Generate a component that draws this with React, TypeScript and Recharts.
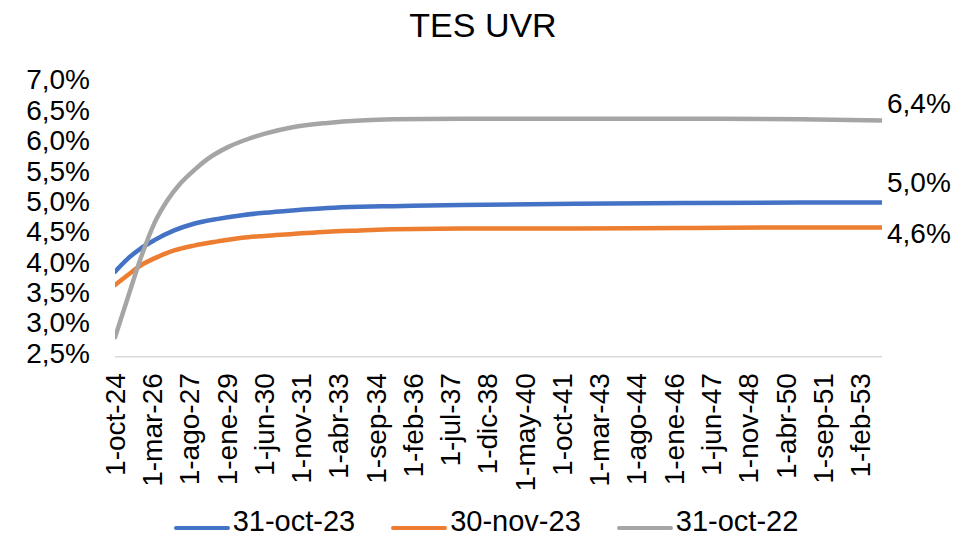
import React from 'react';
import { LineChart, Line, XAxis, YAxis, Legend, LabelList } from 'recharts';

// months elapsed since 1-oct-24 for each sampled point, per series
const monthsOct23 = [0, 6, 12, 18, 27, 36, 47, 58, 68, 81, 97, 112, 127, 158, 210, 260, 313, 350];
const oct23 = [3.90, 4.12, 4.29, 4.42, 4.58, 4.69, 4.77, 4.83, 4.87, 4.91, 4.95, 4.97, 4.98, 5.00, 5.02, 5.03, 5.04, 5.04];
const monthsNov23 = [0, 6, 12, 18, 27, 36, 47, 58, 68, 81, 97, 112, 127, 158, 210, 260, 313, 350];
const nov23 = [3.68, 3.85, 4.01, 4.12, 4.25, 4.33, 4.40, 4.46, 4.49, 4.52, 4.56, 4.58, 4.60, 4.61, 4.61, 4.62, 4.63, 4.63];
const monthsOct22 = [0, 6, 12, 18, 24, 30, 36, 42, 52, 61, 68, 81, 97, 112, 127, 158, 210, 260, 313, 350];
const oct22 = [2.82, 3.49, 4.15, 4.70, 5.08, 5.36, 5.57, 5.75, 5.96, 6.09, 6.17, 6.28, 6.35, 6.39, 6.41, 6.42, 6.42, 6.42, 6.41, 6.39];

const tickMonths = [0, 17, 34, 51, 68, 85, 102, 119, 136, 153, 170, 187, 204, 221, 238, 255, 272, 289, 306, 323, 340];
const tickLabels = [
  '1-oct-24', '1-mar-26', '1-ago-27', '1-ene-29', '1-jun-30', '1-nov-31', '1-abr-33',
  '1-sep-34', '1-feb-36', '1-jul-37', '1-dic-38', '1-may-40', '1-oct-41', '1-mar-43',
  '1-ago-44', '1-ene-46', '1-jun-47', '1-nov-48', '1-abr-50', '1-sep-51', '1-feb-53',
];
const yTicks = [2.5, 3, 3.5, 4, 4.5, 5, 5.5, 6, 6.5, 7];
const seriesNames = ['31-oct-23', '30-nov-23', '31-oct-22'];
const title = 'TES UVR';

const dataOct23 = monthsOct23.map((m, i) => ({ m, v: oct23[i] }));
const dataNov23 = monthsNov23.map((m, i) => ({ m, v: nov23[i] }));
const dataOct22 = monthsOct22.map((m, i) => ({ m, v: oct22[i] }));

const FONT = '"Liberation Sans", Arial, Helvetica, sans-serif';
const COLORS = ['#4472C4', '#ED7D31', '#A5A5A5'];

const fmt = (v: number) => v.toFixed(1).replace('.', ',') + '%';

const YTick = (props: any) => {
  const { x, y, payload } = props;
  return (
    <text x={x} y={y - 4} dy="0.355em" textAnchor="end" fontSize={28} fontFamily={FONT} fill="#000">
      {fmt(payload.value)}
    </text>
  );
};

const XTick = (props: any) => {
  const { x, y, payload } = props;
  const idx = tickMonths.indexOf(payload.value);
  const label = idx >= 0 ? tickLabels[idx] : '';
  return (
    <text
      x={x}
      y={y}
      dy="0.355em"
      textAnchor="end"
      transform={`rotate(-90, ${x}, ${y})`}
      fontSize={28}
      fontFamily={FONT}
      fill="#000"
    >
      {label}
    </text>
  );
};

const endLabel = (lastIndex: number, offset: number) => (props: any) => {
  const { x, y, value, index } = props;
  if (index !== lastIndex) return null;
  return (
    <text x={x + 5} y={y + offset} dy="0.355em" textAnchor="start" fontSize={28} fontFamily={FONT} fill="#000">
      {fmt(value)}
    </text>
  );
};

const LegendContent = () => (
  <div
    style={{
      height: 36,
      boxSizing: 'border-box',
      paddingTop: 5,
      paddingRight: 7,
      display: 'flex',
      justifyContent: 'center',
      alignItems: 'flex-start',
      fontFamily: FONT,
      fontSize: 29,
      lineHeight: '28px',
      color: '#000',
    }}
  >
    {seriesNames.map((name, i) => (
      <div key={name} style={{ display: 'flex', alignItems: 'center', height: 28, marginLeft: i === 0 ? 0 : 36 }}>
        <span
          style={{
            display: 'inline-block',
            width: 56,
            height: 4.5,
            borderRadius: 2.25,
            background: COLORS[i],
            marginRight: 3,
            position: 'relative',
            top: 7,
          }}
        />
        <span>{name}</span>
      </div>
    ))}
  </div>
);

export default function App() {
  return (
    <div style={{ position: 'absolute', left: 0, top: 0, width: 979, height: 538, background: '#fff' }}>
      <div
        style={{
          position: 'absolute',
          left: 0,
          top: 8,
          width: 966,
          textAlign: 'center',
          fontFamily: FONT,
          fontSize: 34,
          lineHeight: '34px',
          color: '#000',
        }}
      >
        {title}
      </div>
      <LineChart width={979} height={538} margin={{ top: 83.5, right: 97, bottom: 0, left: 0 }}>
        <XAxis
          dataKey="m"
          type="number"
          domain={[0, 350]}
          ticks={tickMonths}
          interval={0}
          allowDataOverflow
          height={145.3}
          tickLine={false}
          tickSize={0}
          tickMargin={16.5}
          axisLine={{ stroke: '#D9D9D9', strokeWidth: 1.5 }}
          tick={<XTick />}
        />
        <YAxis
          type="number"
          domain={[2.5, 7]}
          ticks={yTicks}
          interval={0}
          width={115}
          axisLine={false}
          tickLine={false}
          tickSize={0}
          tickMargin={25}
          tick={<YTick />}
        />
        <Legend
          verticalAlign="bottom"
          align="center"
          width={979}
          wrapperStyle={{ left: 0, bottom: 0, width: 979 }}
          content={<LegendContent />}
        />
        <Line
          data={dataOct23}
          type="monotone"
          dataKey="v"
          name={seriesNames[0]}
          stroke={COLORS[0]}
          strokeWidth={4.5}
          strokeLinecap="round"
          dot={false}
          activeDot={false}
          isAnimationActive={false}
        >
          <LabelList dataKey="v" content={endLabel(dataOct23.length - 1, -20.5)} />
        </Line>
        <Line
          data={dataNov23}
          type="monotone"
          dataKey="v"
          name={seriesNames[1]}
          stroke={COLORS[1]}
          strokeWidth={4.5}
          strokeLinecap="round"
          dot={false}
          activeDot={false}
          isAnimationActive={false}
        >
          <LabelList dataKey="v" content={endLabel(dataNov23.length - 1, 6)} />
        </Line>
        <Line
          data={dataOct22}
          type="monotone"
          dataKey="v"
          name={seriesNames[2]}
          stroke={COLORS[2]}
          strokeWidth={4.5}
          strokeLinecap="round"
          dot={false}
          activeDot={false}
          isAnimationActive={false}
        >
          <LabelList dataKey="v" content={endLabel(dataOct22.length - 1, -17.5)} />
        </Line>
      </LineChart>
    </div>
  );
}
